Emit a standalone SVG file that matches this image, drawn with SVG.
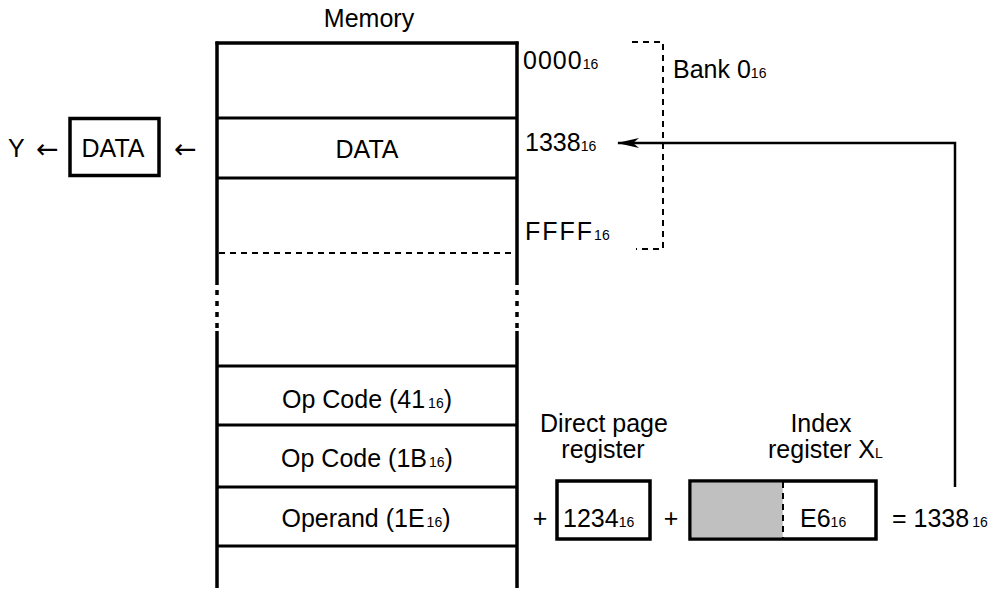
<svg xmlns="http://www.w3.org/2000/svg" width="1006" height="590" viewBox="0 0 1006 590">
  <style>
    text { font-family: "Liberation Sans", Arial, sans-serif; font-size: 25px; fill: #000; }
    .mid { text-anchor: middle; }
    .sub { font-size: 14px; }
    .arw { font-family: "DejaVu Sans", sans-serif; font-size: 27px; }
    .wall { stroke: #000; stroke-width: 3.5; fill: none; }
    .row { stroke: #000; stroke-width: 3; fill: none; }
    .dash { stroke: #000; stroke-width: 2; stroke-dasharray: 6 5; fill: none; }
    .dots { stroke: #000; stroke-width: 3.5; stroke-dasharray: 5 6; fill: none; }
    .box { stroke: #000; stroke-width: 3.5; fill: #fff; }
    .link { stroke: #000; stroke-width: 2.5; fill: none; }
  </style>
  <defs>
    <marker id="arrow" viewBox="0 0 22 10" refX="21" refY="5" markerWidth="22" markerHeight="10" orient="auto" markerUnits="userSpaceOnUse">
      <path d="M0,0 L22,5 L0,10 L6,5 Z" fill="#000"/>
    </marker>
  </defs>

  <rect width="1006" height="590" fill="#fff"/>

  <!-- memory map -->
  <g id="memory">
    <text class="mid" x="369" y="27">Memory</text>
    <line class="wall" x1="215.5" y1="43" x2="518.5" y2="43"/>
    <line class="wall" x1="217" y1="41.5" x2="217" y2="285"/>
    <line class="dots" x1="217" y1="290" x2="217" y2="328"/>
    <line class="wall" x1="217" y1="331" x2="217" y2="588"/>
    <line class="wall" x1="517" y1="41.5" x2="517" y2="285"/>
    <line class="dots" x1="517" y1="290" x2="517" y2="328"/>
    <line class="wall" x1="517" y1="331" x2="517" y2="588"/>
    <line class="row" x1="217" y1="118" x2="517" y2="118"/>
    <line class="row" x1="217" y1="178" x2="517" y2="178"/>
    <line class="dash" x1="219" y1="253" x2="517" y2="253"/>
    <line class="row" x1="217" y1="366" x2="517" y2="366"/>
    <line class="row" x1="217" y1="425" x2="517" y2="425"/>
    <line class="row" x1="217" y1="487" x2="517" y2="487"/>
    <line class="row" x1="217" y1="546" x2="517" y2="546"/>
    <text class="mid" x="367" y="158">DATA</text>
    <text class="mid" x="367" y="408">Op Code (41<tspan class="sub" dx="3">16</tspan>)</text>
    <text class="mid" x="367" y="467">Op Code (1B<tspan class="sub" dx="2">16</tspan>)</text>
    <text class="mid" x="366" y="527">Operand (1E<tspan class="sub" dx="2">16</tspan>)</text>
  </g>

  <!-- address labels -->
  <g id="addresses">
    <text x="523" y="69" letter-spacing="1">0000<tspan class="sub" letter-spacing="0">16</tspan></text>
    <text x="525" y="151">1338<tspan class="sub">16</tspan></text>
    <text x="525" y="240" letter-spacing="2">FFFF<tspan class="sub" letter-spacing="0">16</tspan></text>
  </g>

  <!-- bank 0 bracket -->
  <g id="bank0">
    <path class="dash" d="M632,42 H663 V249 H636"/>
    <text x="673" y="78">Bank 0<tspan class="sub">16</tspan></text>
  </g>

  <!-- data transfer to Y -->
  <g id="data-reg">
    <text x="8" y="157">Y</text>
    <text class="arw" x="36" y="158">←</text>
    <rect class="box" x="70" y="118.5" width="89" height="57"/>
    <text class="mid" x="113" y="157">DATA</text>
    <text class="arw" x="174" y="158">←</text>
  </g>

  <!-- direct page register -->
  <g id="direct-page">
    <text class="mid" x="604" y="432">Direct page</text>
    <text class="mid" x="603" y="458">register</text>
    <text class="mid" x="540" y="527">+</text>
    <rect class="box" x="557" y="481" width="93" height="58"/>
    <text x="563" y="527">1234<tspan class="sub">16</tspan></text>
  </g>

  <!-- index register XL -->
  <g id="index-x">
    <text class="mid" x="821" y="432">Index</text>
    <text x="768" y="458">register X<tspan class="sub" font-size="18">L</tspan></text>
    <text class="mid" x="671" y="527">+</text>
    <rect class="box" x="690" y="481" width="186" height="58"/>
    <rect x="691.75" y="482.75" width="91" height="54.5" fill="#c0c0c0"/>
    <line class="dash" x1="783" y1="482" x2="783" y2="538" stroke-dasharray="5 4"/>
    <text x="800" y="527">E6<tspan class="sub">16</tspan></text>
    <text x="892" y="527">= 1338<tspan class="sub" dx="3">16</tspan></text>
  </g>

  <!-- effective address back to memory -->
  <g id="connectors">
    <path class="link" d="M955,487 V143 H618" marker-end="url(#arrow)"/>
  </g>
</svg>
